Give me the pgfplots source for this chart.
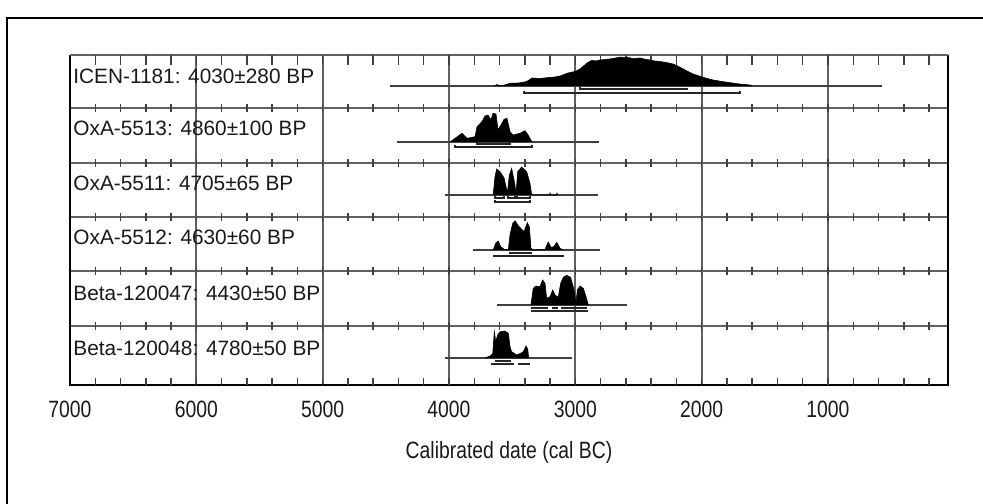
\documentclass[border=0pt]{standalone}
\usepackage{fontspec}
\setmainfont{Liberation Sans}
\newfontfamily\narrowfont{Liberation Sans}[FakeStretch=0.82]
\usepackage{pgfplots}
\pgfplotsset{compat=1.18}
\definecolor{gridc}{gray}{0.38}
\definecolor{linec}{gray}{0.25}
\tikzset{
  base/.style ={linec,line width=0.75pt},
  rng/.style  ={black!85,line width=0.7pt},
  dist/.style ={fill=black,draw=black,line width=0.3pt},
  lab/.style  ={font=\fontsize{10.4}{12}\selectfont,text=black!90,anchor=west,inner sep=0pt},
}

\begin{document}
\begin{tikzpicture}[x=1pt,y=1pt]
\begin{axis}[
  at={(35pt,59pt)}, anchor=south west,
  scale only axis, width=439pt, height=165pt,
  x dir=reverse, xmin=50, xmax=7000, ymin=0, ymax=330,
  clip=false, axis line style={draw=none},
  xtick={1000,2000,3000,4000,5000,6000,7000},
  xticklabels={1000,2000,3000,4000,5000,6000,7000},
  xticklabel style={font=\narrowfont\fontsize{11.8}{13}\selectfont,text=black!90,anchor=base,yshift=-16.3pt},
  ytick={59,114,168,222,277}, yticklabels={},
  major tick length=0pt,
  xmajorgrids, ymajorgrids,
  major grid style={gridc,line width=0.85pt},
  xlabel={Calibrated date (cal BC)},
  xlabel style={font=\narrowfont\fontsize{11.8}{13}\selectfont,text=black!90,anchor=base,
                at={(axis description cs:0.5,0)},yshift=-36.8pt},
  unbounded coords=jump,
]
% frame of the plot
\draw[black,line width=1pt] (axis cs:7000,330) -- (axis cs:7000,0) -- (axis cs:50,0) -- (axis cs:50,330);
\draw[gridc,line width=0.85pt] (axis cs:7000,330) -- (axis cs:50,330);
% small ticks on every row line
\foreach \xx in {6800,6600,...,200}{
  \edef\tmp{\noexpand\draw[linec,line width=0.75pt] (axis cs:\xx,330) -- ([yshift=-5pt]axis cs:\xx,330);
    \noexpand\draw[linec,line width=0.75pt] (axis cs:\xx,0) -- ([yshift=3.5pt]axis cs:\xx,0);}\tmp
}
\pgfplotsinvokeforeach{59,114,168,222,277}{
  \foreach \xx in {6800,6600,...,200}{
    \edef\tmp{\noexpand\draw[linec,line width=0.75pt] ([yshift=-2pt]axis cs:\xx,#1) -- ([yshift=2pt]axis cs:\xx,#1);}\tmp
  }
}

% ICEN-1181
\addplot[base] coordinates {(4470,299) (570,299)};
\addplot[dist] coordinates {(3640,299) (3620,300.5) (3600,299) (3560,300) (3517,301.7) (3450,302) (3400,303) (3374,304.3)
  (3343,307) (3280,306.5) (3224,307.3) (3160,308) (3121,309) (3090,310.5) (3058,312) (3002,313.5) (2963,316) (2930,319.5)
  (2907,322) (2868,324.8) (2840,324) (2805,325) (2760,325.5) (2702,326.5) (2650,327.8) (2591,327.6) (2540,326.5)
  (2488,327) (2450,325.8) (2409,325) (2370,324) (2330,323.5) (2280,322.5) (2227,321) (2190,319) (2147,316)
  (2100,313) (2068,311) (1997,308) (1950,306.3) (1910,305) (1840,303.5) (1775,302.3) (1700,301) (1617,300) (1600,299)};
\addplot[rng] coordinates {(2963,297.5) (2963,296) (2108,296)};
\addplot[rng] coordinates {(3406,293.5) (3406,292) (1696,292) (1696,293.5)};

% OxA-5513
\addplot[base] coordinates {(4412,243) (2812,243)};
\addplot[dist] coordinates {(3992,243) (3952,246.7) (3897,251.7) (3857,246.7) (3794,248.3) (3778,258.3) (3739,263.3)
  (3715,269) (3691,270) (3667,265) (3652,271.7) (3628,271) (3612,255) (3588,260) (3564,265.7) (3541,266.7)
  (3517,253.3) (3493,250) (3438,251.7) (3398,254.3) (3374,250) (3343,243)};
\addplot[rng] coordinates {(3778,242.5) (3778,241) (3517,241) (3517,242.5)};
\addplot[rng] coordinates {(3952,239.5) (3952,238) (3343,238) (3343,239.5)};

% OxA-5511
\addplot[base] coordinates {(4032,190) (2820,190)};
\addplot[dist] coordinates {(3650,190) (3636,208.3) (3622,216) (3596,213.3) (3564,207) (3538,192) (3522,210)
  (3504,216.5) (3485,205) (3469,192) (3456,213.3) (3425,218) (3385,213.3) (3359,201.7) (3345,190)
  (3205,190) (3200,192) (3195,190) (3150,190) (3145,192) (3140,190)};
\addplot[rng] coordinates {(3636,188.5) (3636,187) (3564,187) (3564,188.5) (nan,nan)
  (3533,188.5) (3533,187) (3477,187) (3477,188.5) (nan,nan) (3461,188.5) (3461,187) (3359,187) (3359,188.5)};
\addplot[rng] coordinates {(3636,184.5) (3636,183) (3359,183) (3359,184.5)};

% OxA-5512
\addplot[base] coordinates {(3810,135) (2805,135)};
\addplot[dist] coordinates {(3650,135) (3628,142.3) (3610,144) (3591,138.3) (3564,135.7) (3530,135.7) (3517,150)
  (3496,161.7) (3477,164.3) (3456,160) (3433,156.7) (3406,153.3) (3380,162.3) (3364,158.3) (3351,136.7)
  (3333,135) (3240,135.7) (3214,143) (3192,137.7) (3169,138.3) (3148,142.7) (3121,136.7) (3095,135)};
\addplot[rng] coordinates {(3522,133.5) (3522,132) (3345,132) (3345,133.5)};
\addplot[rng] coordinates {(3650,130.5) (3650,129) (3095,129) (3095,130.5)};

% Beta-120047
\addplot[base] coordinates {(3622,80) (2593,80)};
\addplot[dist] coordinates {(3351,80) (3333,96.7) (3311,99) (3280,98.3) (3259,105) (3240,101.7) (3227,86.7) (3200,88.3)
  (3179,95) (3161,90) (3135,87.7) (3116,101.7) (3095,107.7) (3069,109.7) (3037,107.7) (3010,95) (2995,81.7)
  (2984,95) (2963,99) (2937,96.7) (2915,88.3) (2897,80)};
\addplot[rng] coordinates {(3345,78.5) (3345,77) (3225,77) (3225,78.5) (nan,nan) (3180,78.5) (3180,77) (3140,77)
  (3140,78.5) (nan,nan) (3110,78.5) (3110,77) (2910,77) (2910,78.5)};
\addplot[rng] coordinates {(3345,75.5) (3345,74) (2905,74) (2905,75.5)};

% Beta-120048
\addplot[base] coordinates {(4032,27) (3029,27)};
\addplot[dist] coordinates {(3715,27) (3675,29) (3654,31) (3641,53.3) (3630,43.3) (3615,50) (3596,53.3) (3557,54)
  (3530,51.7) (3517,38.3) (3504,33.3) (3464,30) (3433,31.7) (3412,33.3) (3390,39) (3377,35.7) (3369,27)};
\addplot[rng] coordinates {(3628,25.5) (3628,24) (3517,24) (3517,25.5)};
\addplot[rng] coordinates {(3662,22.5) (3662,21) (3491,21) (3491,22.5) (nan,nan) (3451,22.5) (3451,21) (3367,21) (3367,22.5)};

\node[lab] at (axis cs:6976,309) {ICEN-1181: 4030±280 BP};
\node[lab] at (axis cs:6976,257) {OxA-5513: 4860±100 BP};
\node[lab] at (axis cs:6976,202) {OxA-5511: 4705±65 BP};
\node[lab] at (axis cs:6976,148) {OxA-5512: 4630±60 BP};
\node[lab] at (axis cs:6976,92) {Beta-120047: 4430±50 BP};
\node[lab] at (axis cs:6976,37) {Beta-120048: 4780±50 BP};
\end{axis}
\draw[black,line width=1.3pt] (3.5,-5) -- (3.5,242.5) -- (500,242.5);
\pgfresetboundingbox
\path[use as bounding box] (0,0) rectangle (491.5,251.5);
\end{tikzpicture}
\end{document}
